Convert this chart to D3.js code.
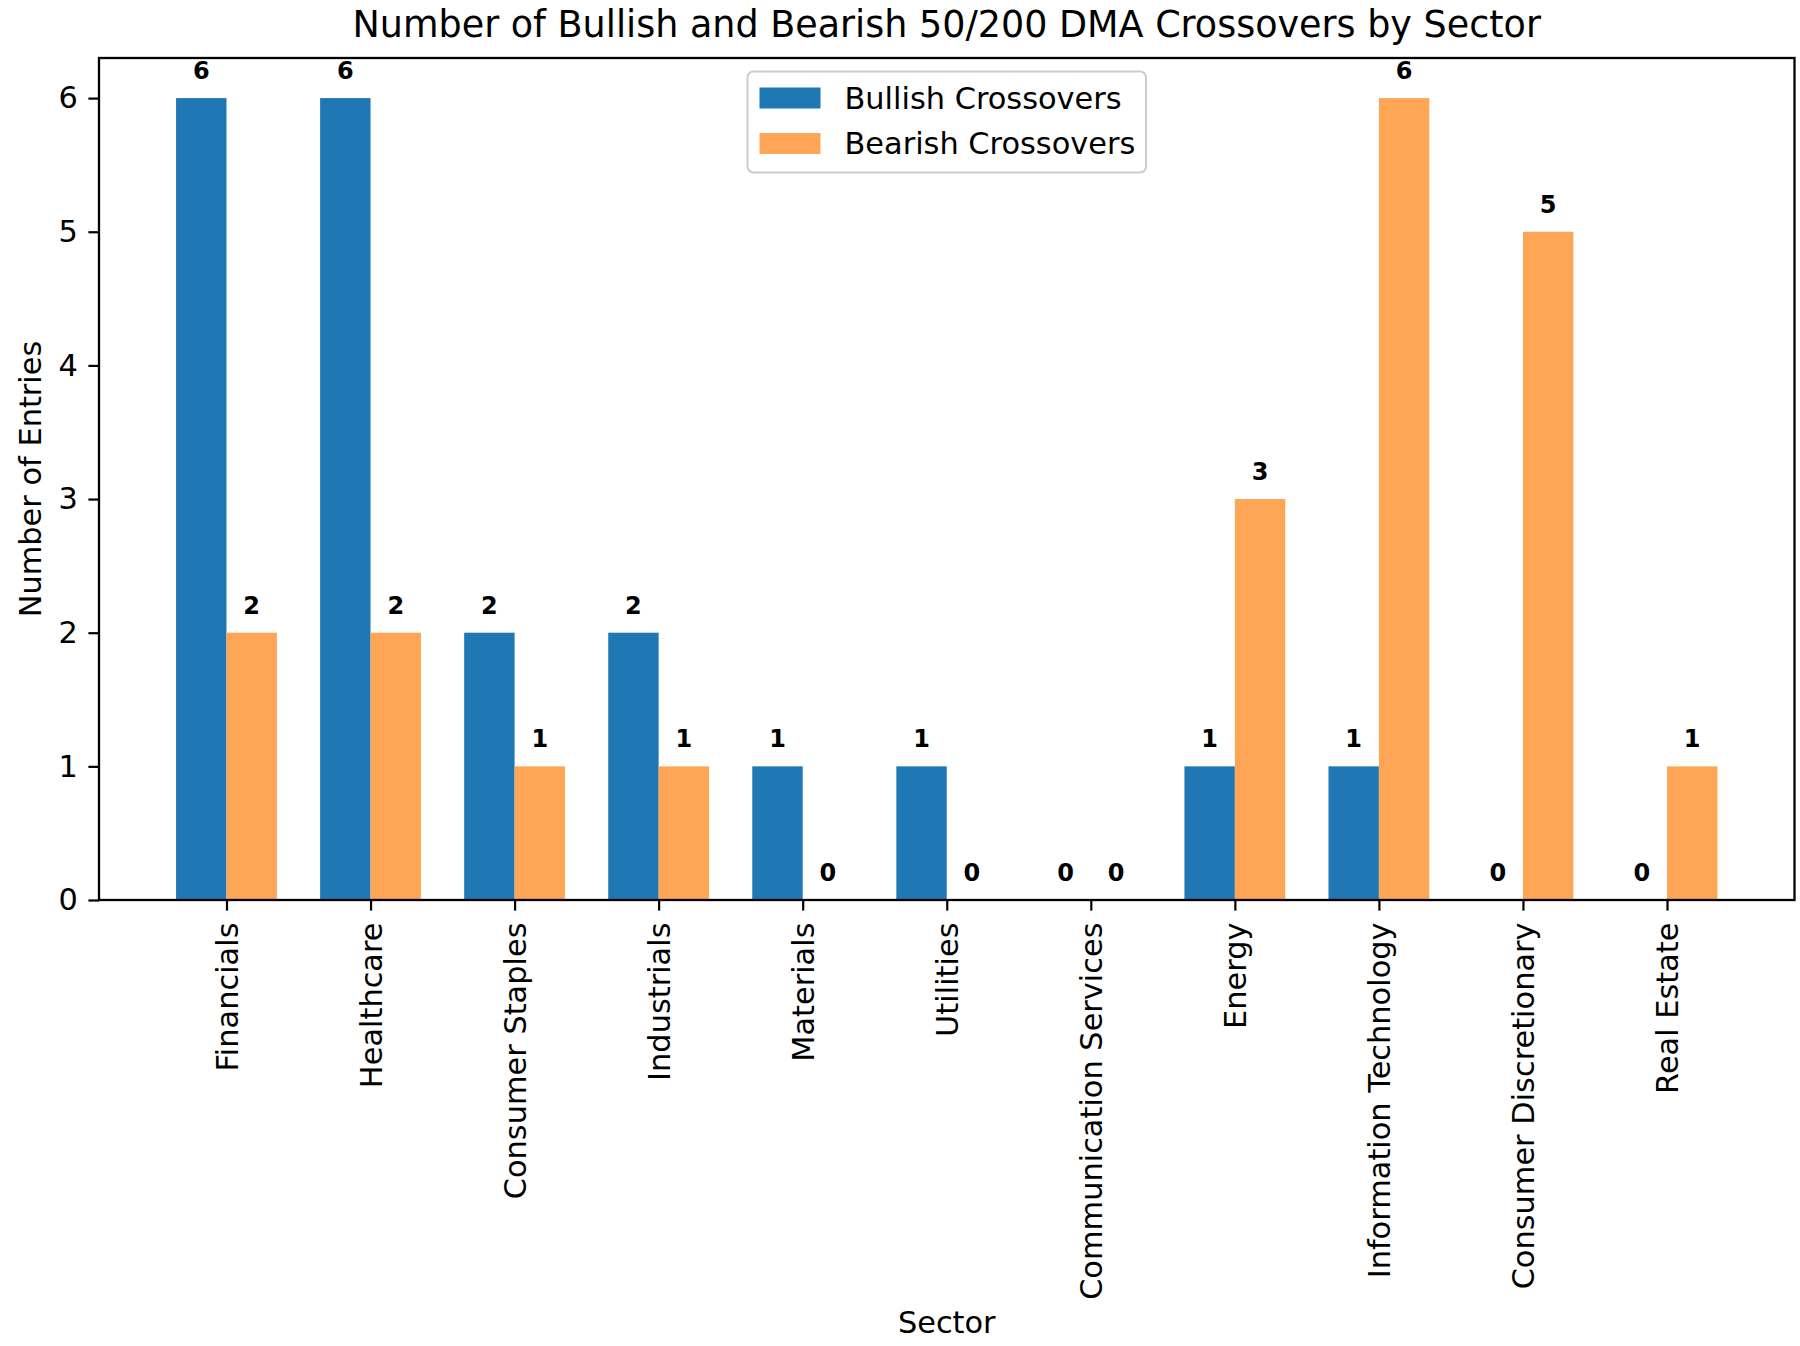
<!DOCTYPE html>
<html>
<head>
<meta charset="utf-8">
<script src="https://cdn.jsdelivr.net/npm/d3@7"></script>
<style>
  html, body { margin: 0; padding: 0; background: #fff; }
  svg { display: block; font-family: "DejaVu Sans", sans-serif; }
</style>
</head>
<body>
<svg id="chart" width="1800" height="1346"></svg>
<script>
const sectors = ["Financials", "Healthcare", "Consumer Staples", "Industrials", "Materials", "Utilities",
  "Communication Services", "Energy", "Information Technology", "Consumer Discretionary", "Real Estate"];
const bullish = [6, 6, 2, 2, 1, 1, 0, 1, 1, 0, 0];
const bearish = [2, 2, 1, 1, 0, 0, 0, 3, 6, 5, 1];
const yTicks = [0, 1, 2, 3, 4, 5, 6];
const seriesNames = ["Bullish Crossovers", "Bearish Crossovers"];
const seriesColors = ["#1f77b4", "#ffa556"];
const titleText = "Number of Bullish and Bearish 50/200 DMA Crossovers by Sector";

const svg = d3.select("#chart");
const L = 99, R = 1794.5, T = 58, B = 900;
const FS = 30.4;
const barW = 0.35;
const n = sectors.length;
const x = d3.scaleLinear().domain([-barW - 0.05 * (n - 1 + 2 * barW), n - 1 + barW + 0.05 * (n - 1 + 2 * barW)]).range([L, R]);
const y = d3.scaleLinear().domain([0, 6.3]).range([B, T]);

const series = [bullish, bearish];
const offsets = [-barW, 0];

// bars
series.forEach((vals, si) => {
  svg.append("g").selectAll("rect").data(vals).join("rect")
    .attr("x", (d, i) => x(i + offsets[si]))
    .attr("width", x(barW) - x(0))
    .attr("y", d => y(d))
    .attr("height", d => y(0) - y(d))
    .attr("fill", seriesColors[si]);
  svg.append("g").selectAll("text").data(vals).join("text")
    .attr("x", (d, i) => x(i + offsets[si] + barW / 2))
    .attr("y", d => y(d) - 19)
    .attr("text-anchor", "middle")
    .attr("font-size", 24)
    .attr("font-weight", "bold")
    .text(d => d);
});

// y axis
const yAxis = d3.axisLeft(y).tickValues(yTicks).tickSize(10.6).tickPadding(10.6).tickFormat(d3.format("d"));
const gy = svg.append("g").attr("transform", `translate(${L},0)`).call(yAxis);
gy.select(".domain").remove();
gy.selectAll(".tick line").attr("stroke", "#000").attr("stroke-width", 2.2);
gy.selectAll(".tick text").attr("font-size", FS).attr("fill", "#000").attr("font-family", "DejaVu Sans");

// x axis
const xAxis = d3.axisBottom(x).tickValues(d3.range(n)).tickSize(10.6).tickFormat(i => sectors[i]);
const gx = svg.append("g").attr("transform", `translate(0,${B})`).call(xAxis);
gx.select(".domain").remove();
gx.selectAll(".tick line").attr("stroke", "#000").attr("stroke-width", 2.2);
gx.selectAll(".tick text")
  .attr("font-size", FS).attr("fill", "#000").attr("font-family", "DejaVu Sans")
  .attr("text-anchor", "end")
  .attr("transform", "translate(0,22.5) rotate(-90)")
  .attr("x", 0).attr("y", 0).attr("dy", "0.36em");

// frame
svg.append("rect").attr("x", L).attr("y", T).attr("width", R - L).attr("height", B - T)
  .attr("fill", "none").attr("stroke", "#000").attr("stroke-width", 2.3);

// title and labels
svg.append("text").attr("x", (L + R) / 2).attr("y", 37).attr("text-anchor", "middle")
  .attr("font-size", 36.5).text(titleText);
svg.append("text").attr("x", (L + R) / 2).attr("y", 1333).attr("text-anchor", "middle")
  .attr("font-size", FS).text("Sector");
svg.append("text").attr("transform", `translate(41,${(T + B) / 2}) rotate(-90)`)
  .attr("text-anchor", "middle").attr("font-size", FS).text("Number of Entries");

// legend
const lgX = 747.5, lgY = 71.5, lgW = 398.5, lgH = 101;
const lg = svg.append("g");
lg.append("rect").attr("x", lgX).attr("y", lgY).attr("width", lgW).attr("height", lgH)
  .attr("rx", 6).attr("fill", "#fff").attr("fill-opacity", 0.8)
  .attr("stroke", "#cccccc").attr("stroke-width", 2);
seriesNames.forEach((name, i) => {
  const cy = lgY + 26.5 + i * 45.5;
  lg.append("rect").attr("x", lgX + 12).attr("y", cy - 10.5).attr("width", 61).attr("height", 21)
    .attr("fill", seriesColors[i]);
  lg.append("text").attr("x", lgX + 97).attr("y", cy).attr("dy", "0.35em")
    .attr("font-size", FS).text(name);
});
</script>
</body>
</html>
